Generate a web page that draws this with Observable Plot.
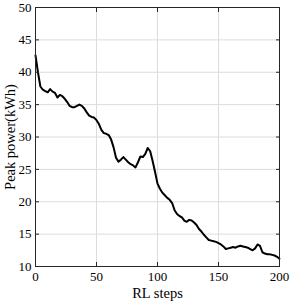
<!DOCTYPE html>
<html>
<head>
<meta charset="utf-8">
<script src="https://cdn.jsdelivr.net/npm/d3@7"></script>
<script src="https://cdn.jsdelivr.net/npm/@observablehq/plot@0.6"></script>
<style>
  html, body { margin: 0; padding: 0; background: #fff; }
  #chart svg { font-family: "Liberation Serif", serif; }
</style>
</head>
<body>
<div id="chart"></div>
<script>
const steps = [0,2,4,6,8,10,12,14,16,18,20,22,24,26,28,30,32,34,36,38,40,42,44,46,48,50,52,54,56,58,60,62,64,66,68,70,72,74,76,78,80,82,84,86,88,90,92,94,96,98,100,102,104,106,108,110,112,114,116,118,120,122,124,126,128,130,132,134,136,138,140,142,144,146,148,150,152,154,156,158,160,162,164,166,168,170,172,174,176,178,180,182,184,186,188,190,192,194,196,198,200];
const peakPower = [42.6,40.0,37.8,37.3,37.1,36.9,37.4,37.0,36.8,36.1,36.5,36.3,35.9,35.4,34.8,34.6,34.6,34.8,35.0,34.8,34.4,33.8,33.3,33.1,33.0,32.6,32.0,31.1,30.6,30.5,30.3,29.6,28.4,26.8,26.2,26.5,26.9,26.5,26.1,25.8,25.6,25.3,26.1,27.0,26.9,27.4,28.3,27.8,26.3,24.6,22.8,22.0,21.4,21.0,20.6,20.3,19.8,18.7,18.1,17.8,17.6,17.1,16.9,17.2,17.1,16.8,16.4,15.8,15.4,14.9,14.5,14.1,14.0,13.9,13.8,13.6,13.4,13.1,12.7,12.8,12.9,13.0,12.9,13.1,13.2,13.1,13.0,12.9,12.7,12.5,12.8,13.4,13.2,12.2,12.0,11.9,11.9,11.8,11.7,11.5,11.2];
const xTicks = [0, 50, 100, 150, 200];
const yTicks = [10, 15, 20, 25, 30, 35, 40, 45, 50];
const xLabel = "RL steps";
const yLabel = "Peak power(kWh)";

const data = steps.map((s, i) => ({step: s, power: peakPower[i]}));
const axisColor = "#262626";

const chart = Plot.plot({
  width: 291,
  height: 302,
  marginLeft: 35,
  marginRight: 12,
  marginTop: 7,
  marginBottom: 36,
  style: {fontFamily: "Liberation Serif, serif", fontSize: "13px", background: "#fff", color: "#000"},
  x: {domain: [0, 200]},
  y: {domain: [10, 50]},
  marks: [
    Plot.gridX(xTicks, {stroke: "#dcdcdc", strokeOpacity: 1}),
    Plot.gridY(yTicks, {stroke: "#dcdcdc", strokeOpacity: 1}),
    Plot.line(data, {x: "step", y: "power", stroke: "#000", strokeWidth: 2, strokeLinejoin: "round"}),
    Plot.frame({stroke: axisColor, strokeWidth: 1}),
    // inward ticks
    Plot.axisX(xTicks, {anchor: "bottom", tickSize: 4, dy: -4, text: null, label: null, stroke: axisColor}),
    Plot.axisX(xTicks, {anchor: "top", tickSize: 4, dy: 4, text: null, label: null, stroke: axisColor}),
    Plot.axisY(yTicks, {anchor: "left", tickSize: 4, dx: 4, text: null, label: null, stroke: axisColor}),
    Plot.axisY(yTicks, {anchor: "right", tickSize: 4, dx: -4, text: null, label: null, stroke: axisColor}),
    // labels
    Plot.axisX(xTicks, {anchor: "bottom", tickSize: 0, tickPadding: 5, fontSize: 13, label: null}),
    Plot.axisY(yTicks, {anchor: "left", tickSize: 0, tickPadding: 4, fontSize: 13, label: null}),
    Plot.axisX(xTicks, {anchor: "bottom", tickSize: 0, text: null, fontSize: 14.5, label: xLabel, labelAnchor: "center", labelOffset: 31, labelArrow: "none"}),
    Plot.axisY(yTicks, {anchor: "left", tickSize: 0, text: null, fontSize: 14.5, label: yLabel, labelAnchor: "center", labelOffset: 31, labelArrow: "none"})
  ]
});
document.getElementById("chart").appendChild(chart);
</script>
</body>
</html>
